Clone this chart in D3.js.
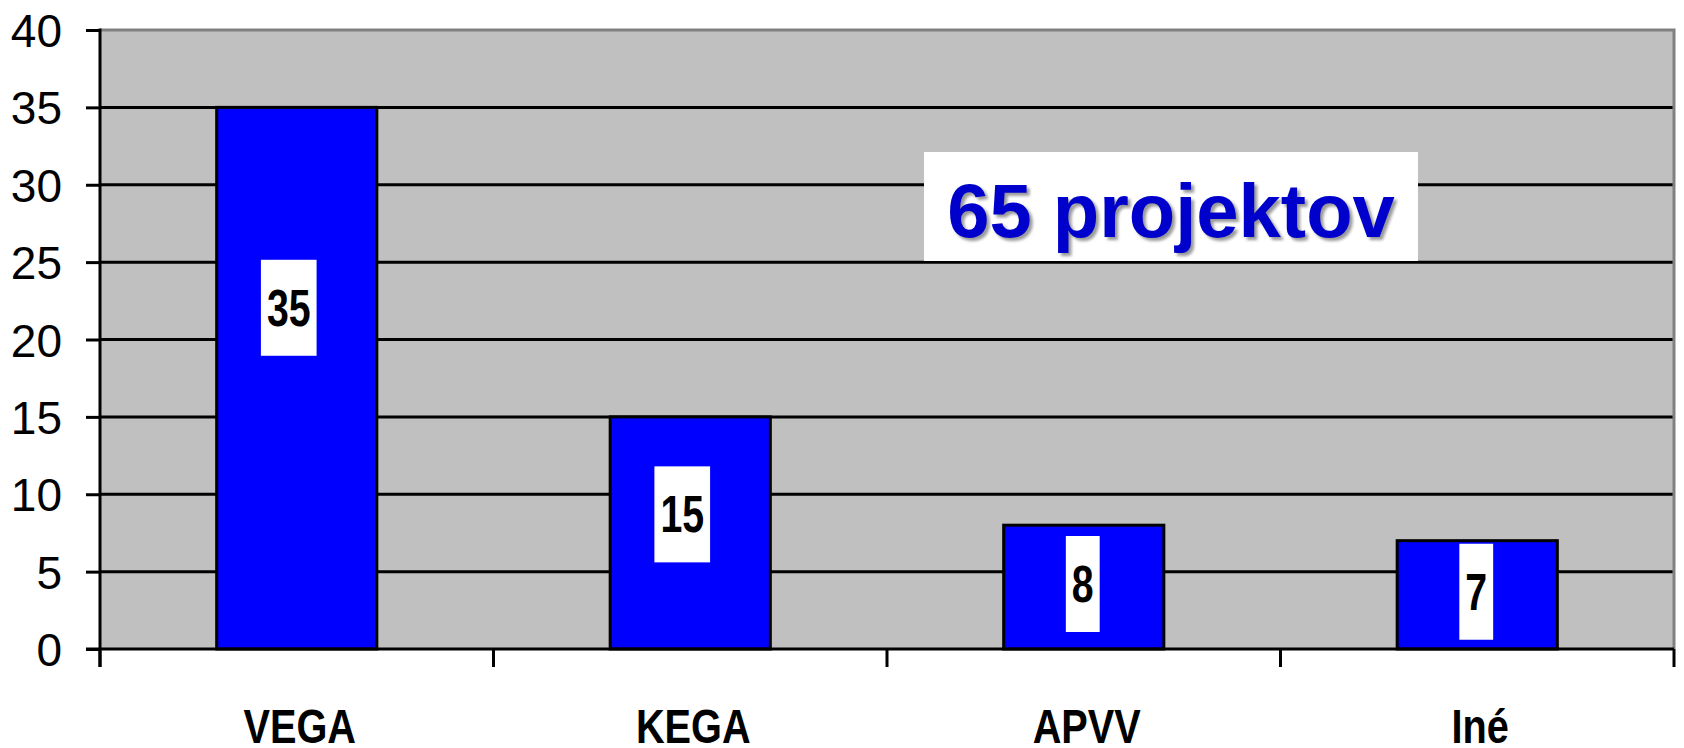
<!DOCTYPE html>
<html>
<head>
<meta charset="utf-8">
<script src="https://cdn.jsdelivr.net/npm/d3@7"></script>
<style>
  body { margin: 0; background: #fff; }
  svg { display: block; }
</style>
</head>
<body>
<div id="graph"></div>
<script>
var categories = ["VEGA", "KEGA", "APVV", "Iné"];
var values = [35, 15, 8, 7];
var yTicks = [0, 5, 10, 15, 20, 25, 30, 35, 40];
var totalText = "65 projektov";

var w = 1684, h = 748;
var plotL = 100, plotR = 1674, plotT = 30, plotB = 649;

var svg = d3.select("#graph")
	.append("svg")
	.attr("width", w)
	.attr("height", h);

var defs = svg.append("defs");
defs.append("filter")
	.attr("id", "blur")
	.attr("x", "-10%").attr("y", "-10%")
	.attr("width", "120%").attr("height", "120%")
	.append("feGaussianBlur")
	.attr("stdDeviation", 1.5);

var x = d3.scaleBand()
	.domain(categories)
	.range([plotL, plotR])
	.paddingInner(0.593)
	.paddingOuter(0.593 / 2);

var y = d3.scaleLinear()
	.domain([0, 40])
	.range([plotB, plotT]);

// plot background
svg.append("rect")
	.attr("x", plotL)
	.attr("y", plotT)
	.attr("width", plotR - plotL)
	.attr("height", plotB - plotT)
	.attr("fill", "#c0c0c0");

// gridlines
svg.selectAll("line.grid")
	.data(yTicks.filter(function(d) { return d > 0 && d < 40; }))
	.enter().append("line")
	.attr("class", "grid")
	.attr("x1", plotL)
	.attr("x2", plotR)
	.attr("y1", function(d) { return y(d); })
	.attr("y2", function(d) { return y(d); })
	.attr("stroke", "#000")
	.attr("stroke-width", 3);

// top and right frame (gray)
svg.append("path")
	.attr("d", "M" + plotL + "," + y(40) + "H" + plotR + "V" + plotB)
	.attr("fill", "none")
	.attr("stroke", "#808080")
	.attr("stroke-width", 3);

// bars
svg.selectAll("rect.bar")
	.data(values)
	.enter().append("rect")
	.attr("class", "bar")
	.attr("x", function(d, i) { return x(categories[i]); })
	.attr("y", function(d) { return y(d); })
	.attr("width", x.bandwidth())
	.attr("height", function(d) { return y(0) - y(d); })
	.attr("fill", "#0000ff")
	.attr("stroke", "#000")
	.attr("stroke-width", 3);

// y axis
var yAxis = svg.append("g")
	.attr("transform", "translate(" + plotL + ",0)")
	.call(d3.axisLeft(y).tickValues(yTicks).tickSize(14).tickSizeOuter(0).tickPadding(24));
yAxis.select(".domain").remove();
yAxis.selectAll(".tick line").attr("stroke", "#000").attr("stroke-width", 3);
yAxis.selectAll(".tick text")
	.attr("font-family", "Liberation Sans, Arial, sans-serif")
	.attr("font-size", 46)
	.attr("fill", "#000")
	.attr("dy", "0.36em");

svg.append("line")
	.attr("x1", plotL).attr("x2", plotL)
	.attr("y1", plotT - 1.5).attr("y2", plotB + 18)
	.attr("stroke", "#000").attr("stroke-width", 3);

// x axis
svg.append("line")
	.attr("x1", plotL - 14).attr("x2", plotR)
	.attr("y1", plotB).attr("y2", plotB)
	.attr("stroke", "#000").attr("stroke-width", 3);

var bounds = categories.map(function(c) { return x(c) - x.step() * x.paddingInner() / 2; });
bounds.push(plotR);
svg.selectAll("line.xtick")
	.data(bounds)
	.enter().append("line")
	.attr("class", "xtick")
	.attr("x1", function(d) { return d; })
	.attr("x2", function(d) { return d; })
	.attr("y1", plotB)
	.attr("y2", plotB + 18)
	.attr("stroke", "#000")
	.attr("stroke-width", 3);

svg.selectAll("text.cat")
	.data(categories)
	.enter().append("text")
	.attr("class", "cat")
	.attr("transform", function(d) {
		return "translate(" + (x(d) + x.bandwidth() / 2 + 3) + ",743) scale(0.81,1)";
	})
	.attr("text-anchor", "middle")
	.attr("font-family", "Liberation Sans, Arial, sans-serif")
	.attr("font-weight", "bold")
	.attr("font-size", 49)
	.text(function(d) { return d; });

// value labels
var labelAt = function(v) { return v >= 30 ? v * 0.63 : v / 2 + (v > 10 ? 1.2 : 0.2); };
var labels = svg.selectAll("g.lbl")
	.data(values)
	.enter().append("g")
	.attr("class", "lbl")
	.attr("transform", function(d, i) {
		return "translate(" + (x(categories[i]) + x.bandwidth() / 2 - (d >= 10 ? 8 : 1)) + "," + y(labelAt(d)) + ")";
	});

labels.append("rect").attr("fill", "#fff");
labels.append("text")
	.attr("transform", "scale(0.77,1)")
	.attr("text-anchor", "middle")
	.attr("y", 18)
	.attr("font-family", "Liberation Sans, Arial, sans-serif")
	.attr("font-weight", "bold")
	.attr("font-size", 51)
	.attr("fill", "#000")
	.text(function(d) { return d; });

labels.each(function() {
	var g = d3.select(this);
	var bw = g.select("text").node().getBBox().width * 0.77;
	g.select("rect")
		.attr("x", -bw / 2 - 6)
		.attr("y", -48)
		.attr("width", bw + 12)
		.attr("height", 96);
});

// total box
var tx = 1171, ty = 237;
svg.append("rect")
	.attr("x", 924).attr("y", 152)
	.attr("width", 494).attr("height", 109)
	.attr("fill", "#fff");
svg.append("text")
	.attr("x", tx + 3).attr("y", ty + 3)
	.attr("text-anchor", "middle")
	.attr("font-family", "Liberation Sans, Arial, sans-serif")
	.attr("font-weight", "bold")
	.attr("font-size", 76)
	.attr("fill", "#999")
	.attr("filter", "url(#blur)")
	.text(totalText);
svg.append("text")
	.attr("x", tx).attr("y", ty)
	.attr("text-anchor", "middle")
	.attr("font-family", "Liberation Sans, Arial, sans-serif")
	.attr("font-weight", "bold")
	.attr("font-size", 76)
	.attr("fill", "#0000cc")
	.text(totalText);
</script>
</body>
</html>
